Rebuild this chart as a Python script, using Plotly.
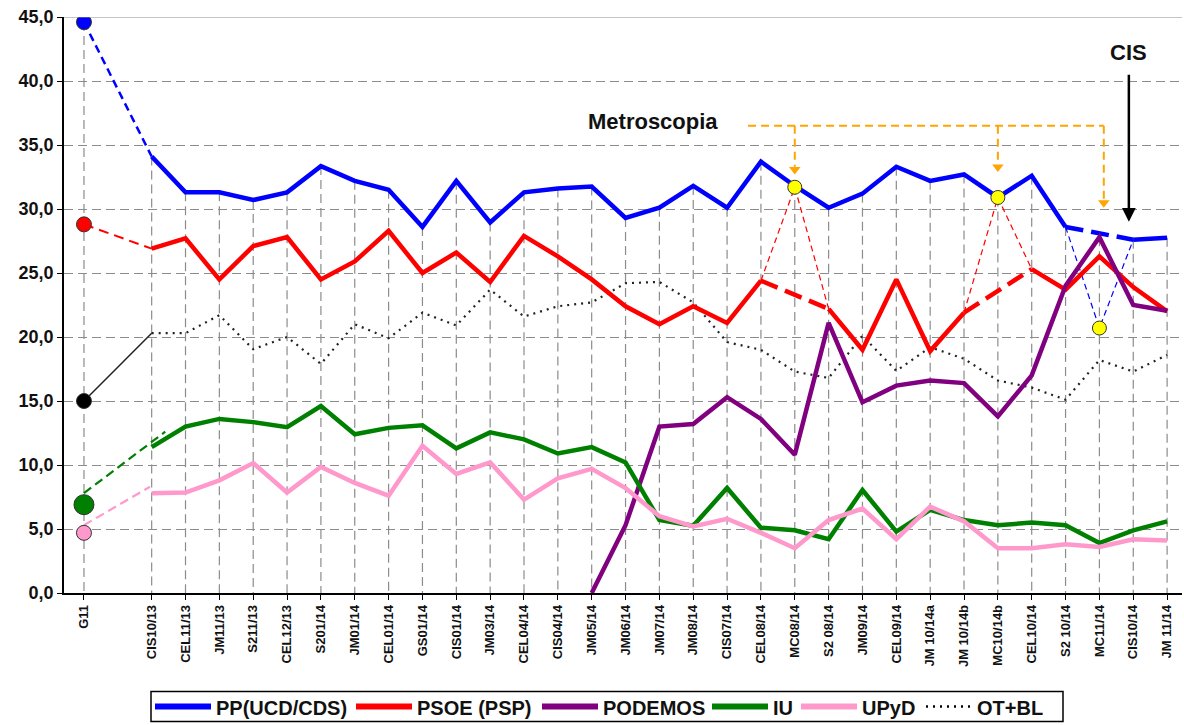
import plotly.graph_objects as go

# ---------------- data ----------------
first_label = "G11"
categories = ["CIS10/13", "CEL11/13", "JM11/13", "S211/13", "CEL12/13", "S201/14", "JM01/14",
              "CEL01/14", "GS01/14", "CIS01/14", "JM03/14", "CEL04/14", "CIS04/14", "JM05/14",
              "JM06/14", "JM07/14", "JM08/14", "CIS07/14", "CEL08/14", "MC08/14", "S2 08/14",
              "JM09/14", "CEL09/14", "JM 10/14a", "JM 10/14b", "MC10/14b", "CEL10/14", "S2 10/14",
              "MC11/14", "CIS10/14", "JM 11/14"]

pp = [34.1, 31.3, 31.3, 30.7, 31.3, 33.35, 32.2, 31.5, 28.6, 32.2, 28.95, 31.3, 31.6, 31.75,
      29.3, 30.1, 31.8, 30.1, 33.7, 31.8, 30.1, 31.2, 33.3, 32.2, 32.7, 30.9, 32.6, 28.6,
      20.7, 27.6, 27.75]
psoe = [26.9, 27.7, 24.5, 27.1, 27.8, 24.5, 25.9, 28.3, 25.0, 26.6, 24.3, 27.9, 26.3, 24.5,
        22.4, 21.0, 22.4, 21.1, 24.4, 31.7, 22.2, 19.0, 24.5, 18.9, 21.9, 30.9, 25.3, 23.7,
        26.3, 23.9, 22.0]
podemos = [None] * 13 + [0.0, 5.3, 13.0, 13.2, 15.3, 13.6, 10.8, 21.1, 14.9, 16.2, 16.6, 16.4,
                         13.8, 17.0, 24.0, 27.8, 22.5, 22.05]
iu = [11.4, 13.0, 13.6, 13.35, 12.95, 14.6, 12.4, 12.9, 13.1, 11.3, 12.55, 12.0, 10.9, 11.4,
      10.2, 5.7, 5.25, 8.2, 5.1, 4.9, 4.2, 8.05, 4.8, 6.5, 5.7, 5.3, 5.5, 5.3, 3.9, 4.9, 5.6]
upyd = [7.8, 7.85, 8.8, 10.15, 7.85, 9.85, 8.6, 7.6, 11.5, 9.3, 10.2, 7.3, 8.95, 9.7,
        8.2, 6.0, 5.2, 5.8, 4.7, 3.5, 5.7, 6.6, 4.2, 6.75, 5.6, 3.5, 3.5, 3.8, 3.6, 4.2, 4.1]
ot_bl = [20.3, 20.3, 21.7, 19.05, 20.0, 17.9, 21.0, 19.9, 21.9, 20.9, 23.7, 21.6, 22.4, 22.7,
         24.2, 24.3, 22.7, 19.6, 19.0, 17.3, 16.8, 20.1, 17.35, 19.2, 18.3, 16.6, 16.05, 15.1,
         18.2, 17.3, 18.6]

# 2011 general election results (G11)
g11_pp, g11_psoe, g11_ot, g11_iu, g11_upyd = 44.6, 28.8, 15.0, 6.9, 4.7
iu_link = [7.8, 12.6]      # dashed IU link: value at G11, value at its end
upyd_link = [5.3, 8.3]     # dashed UPyD link

# Metroscopia polls plotted apart (yellow points)
metroscopia_psoe = ["MC08/14", "MC10/14b"]
metroscopia_pp = ["MC11/14"]

y_ticks = [0, 5, 10, 15, 20, 25, 30, 35, 40, 45]

# ---------------- layout geometry ----------------
L, R, T, B = 64, 1182, 17, 593
PW, PH = R - L, B - T
def px_x(px):
    return (px - L) / PW
def px_y(py):
    return (B - py) / PH

g11_pos = 0
pos = list(range(2, 2 + len(categories)))
idx = {c: i for i, c in enumerate(categories)}

BLUE, RED, PURPLE, GREEN, PINK = "#0000FF", "#FF0000", "#800080", "#008000", "#FF99CC"
ORANGE = "#FFA500"
GRID = "#8c8c8c"
TXT = "#111111"
FONT = "Liberation Sans"
MAINW = 4.5

fig = go.Figure()

# drop lines (from highest value down to the axis)
series_all = [pp, psoe, podemos, iu, upyd, ot_bl]
dx, dy = [g11_pos, g11_pos, None], [g11_pp, 0, None]
for k, p in enumerate(pos):
    top = max(s[k] for s in series_all if s[k] is not None)
    dx += [p, p, None]
    dy += [top, 0, None]
fig.add_trace(go.Scatter(x=dx, y=dy, mode="lines", line=dict(color=GRID, width=1.2, dash="9px,5px"),
                         hoverinfo="skip", showlegend=False))

# OT+BL dotted
fig.add_trace(go.Scatter(x=pos, y=ot_bl, mode="lines",
                         line=dict(color="#222222", width=2.2, dash="2px,5px"), showlegend=False))


def add_series(vals, color, skip):
    main = [None if categories[k] in skip else v for k, v in enumerate(vals)]
    fig.add_trace(go.Scatter(x=pos, y=main, mode="lines", line=dict(color=color, width=MAINW),
                             connectgaps=False, showlegend=False))
    for c in skip:
        k = idx[c]
        fig.add_trace(go.Scatter(x=[pos[k - 1], pos[k + 1]], y=[vals[k - 1], vals[k + 1]], mode="lines",
                                 line=dict(color=color, width=MAINW, dash="18px,8px"), showlegend=False))
        fig.add_trace(go.Scatter(x=[pos[k - 1], pos[k], pos[k + 1]], y=[vals[k - 1], vals[k], vals[k + 1]],
                                 mode="lines", line=dict(color=color, width=1.2, dash="6px,4px"),
                                 showlegend=False))


add_series(pp, BLUE, metroscopia_pp)
add_series(psoe, RED, metroscopia_psoe)
add_series(podemos, PURPLE, [])
add_series(iu, GREEN, [])
add_series(upyd, PINK, [])

# G11 links
fig.add_trace(go.Scatter(x=[g11_pos, pos[0]], y=[g11_pp, pp[0]], mode="lines",
                         line=dict(color=BLUE, width=2.5, dash="8px,5px"), showlegend=False))
fig.add_trace(go.Scatter(x=[g11_pos, pos[0]], y=[g11_psoe, psoe[0]], mode="lines",
                         line=dict(color=RED, width=2, dash="10px,6px"), showlegend=False))
fig.add_trace(go.Scatter(x=[g11_pos, pos[0]], y=[g11_ot, ot_bl[0]], mode="lines",
                         line=dict(color="#222222", width=1.5), showlegend=False))
fig.add_trace(go.Scatter(x=[g11_pos, pos[0] + 0.4], y=iu_link, mode="lines",
                         line=dict(color=GREEN, width=2.2, dash="9px,5px"), showlegend=False))
fig.add_trace(go.Scatter(x=[g11_pos, pos[0] - 0.05], y=upyd_link, mode="lines",
                         line=dict(color=PINK, width=2.2, dash="9px,5px"), showlegend=False))

# G11 markers
fig.add_trace(go.Scatter(
    x=[g11_pos] * 5, y=[g11_pp, g11_psoe, g11_ot, g11_iu, g11_upyd], mode="markers",
    marker=dict(color=[BLUE, RED, "#000000", GREEN, PINK], size=[15, 15, 15, 20, 15], opacity=1,
                line=dict(color="#333333", width=1)), showlegend=False))

# Metroscopia yellow points
my_x = [pos[idx[c]] for c in metroscopia_psoe] + [pos[idx[c]] for c in metroscopia_pp]
my_y = [psoe[idx[c]] for c in metroscopia_psoe] + [pp[idx[c]] for c in metroscopia_pp]
fig.add_trace(go.Scatter(x=my_x, y=my_y, mode="markers",
                         marker=dict(color="#FFFF00", size=14, opacity=1, line=dict(color="#333333", width=1)),
                         showlegend=False))

# Metroscopia orange arrows
orange_y = 36.5
arrow_x = [pos[idx["MC08/14"]], pos[idx["MC10/14b"]], pos[idx["MC11/14"]] + 0.13]
arrow_tip = [32.7, 32.9, 30.1]
shapes = [dict(type="line", xref="x", yref="y", x0=19.62, x1=arrow_x[-1], y0=orange_y, y1=orange_y,
               line=dict(color=ORANGE, width=2, dash="8px,5px"))]
for ax_, tip in zip(arrow_x, arrow_tip):
    shapes.append(dict(type="line", xref="x", yref="y", x0=ax_, x1=ax_, y0=orange_y, y1=tip + 0.6,
                       line=dict(color=ORANGE, width=2, dash="8px,5px")))
fig.add_trace(go.Scatter(x=arrow_x, y=[t + 0.39 for t in arrow_tip], mode="markers",
                         marker=dict(symbol="triangle-down", size=10, color=ORANGE, opacity=1),
                         showlegend=False))

# top border
shapes.append(dict(type="line", xref="paper", yref="y", x0=0, x1=1, y0=45, y1=45,
                   line=dict(color="#8c8c8c", width=1.2)))

annotations = [
    dict(x=30.87, y=29.0, ax=30.87, ay=40.6, axref="x", ayref="y", xref="x", yref="y", text="",
         showarrow=True, arrowhead=2, arrowsize=1.1, arrowwidth=2.5, arrowcolor="#000000"),
    dict(x=30.85, y=42.2, xref="x", yref="y", text="<b>CIS</b>", showarrow=False,
         font=dict(family=FONT, size=22, color=TXT)),
    dict(x=16.82, y=36.8, xref="x", yref="y", text="<b>Metroscopia</b>", showarrow=False,
         font=dict(family=FONT, size=22, color=TXT)),
]

# manual legend
legend_names = ["PP(UCD/CDS)", "PSOE (PSP)", "PODEMOS", "IU", "UPyD", "OT+BL"]
legend_colors = [BLUE, RED, PURPLE, GREEN, PINK, "#000000"]
legend_start = [155, 356, 542, 712, 801, 926]
leg_y = 706.5
shapes.append(dict(type="rect", xref="paper", yref="paper", x0=px_x(151), x1=px_x(1063),
                   y0=px_y(691.5), y1=px_y(721.5), line=dict(color="#000000", width=1.5)))
for name, col, s in zip(legend_names, legend_colors, legend_start):
    dotted = name == "OT+BL"
    ln = 46 if dotted else 56
    shapes.append(dict(type="line", xref="paper", yref="paper", x0=px_x(s), x1=px_x(s + ln),
                       y0=px_y(leg_y), y1=px_y(leg_y),
                       line=dict(color=col, width=2.5 if dotted else 6, dash="2px,5px" if dotted else "solid")))
    annotations.append(dict(x=px_x(s + ln + 3), y=px_y(leg_y + 1), xref="paper", yref="paper",
                            xanchor="left", yanchor="middle", text="<b>%s</b>" % name, showarrow=False,
                            font=dict(family=FONT, size=20, color=TXT)))

fig.update_layout(
    width=1184, height=725,
    margin=dict(l=L, r=1184 - R, t=T, b=725 - B, autoexpand=False),
    plot_bgcolor="white", paper_bgcolor="white",
    showlegend=False,
    shapes=shapes, annotations=annotations,
    xaxis=dict(range=[-0.59, 32.44], tickmode="array", tickvals=[g11_pos] + pos,
               ticktext=[first_label] + categories, tickangle=-90, automargin=False,
               tickfont=dict(family=FONT, size=13, color=TXT, weight="bold"),
               showgrid=False, zeroline=False, showline=True, linecolor="#000000", linewidth=1.5,
               ticks="outside", ticklen=5, tickcolor="#000000"),
    yaxis=dict(range=[0, 45], tickmode="array", tickvals=y_ticks, automargin=False,
               ticktext=[("%.1f" % v).replace(".", ",") for v in y_ticks],
               tickfont=dict(family=FONT, size=18, color=TXT, weight="bold"),
               showgrid=True, gridcolor=GRID, gridwidth=1.2, griddash="9px,5px",
               zeroline=False, showline=True, linecolor="#000000", linewidth=1.5,
               ticks="outside", ticklen=5, tickcolor="#000000"),
)

fig.write_html("out.html", config={"displayModeBar": False},
               post_script="document.body.style.margin='0px';document.body.style.overflow='hidden';")
